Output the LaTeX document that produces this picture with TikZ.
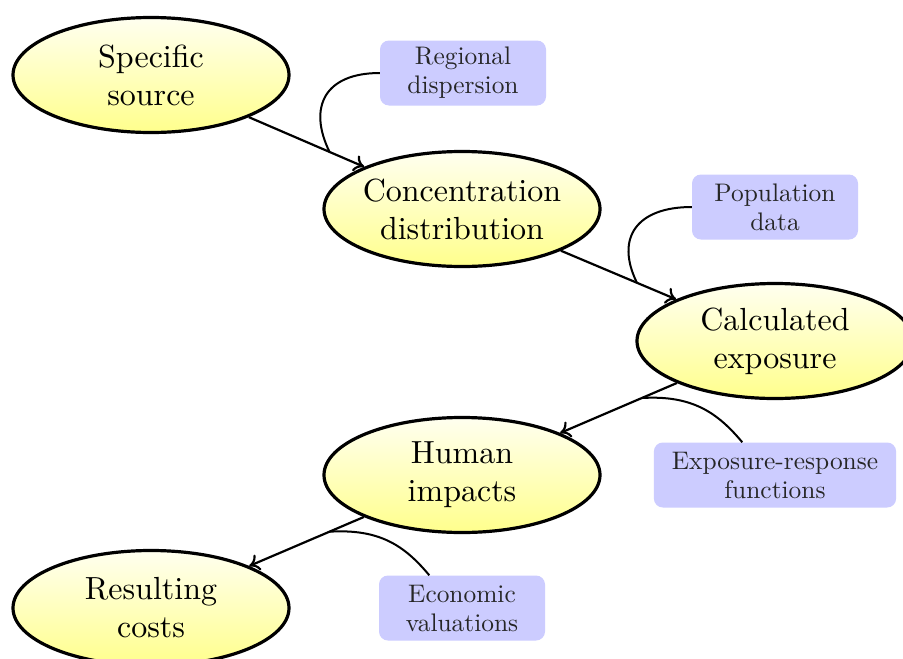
\documentclass[tikz,border=0pt]{standalone}
\usepackage{fontspec}
\newfontfamily\lmten{lmroman10-regular.otf}
\usetikzlibrary{shapes.geometric,arrows.meta}
\begin{document}
\begin{tikzpicture}[x=1pt,y=-1pt,
  blob/.style={ellipse, draw=black, line width=3.2pt, top color=yellow!6, bottom color=yellow!45,
    text width=200pt, align=center, inner xsep=-2.5pt, inner ysep=0pt,
    minimum width=276pt, minimum height=115pt, font=\lmten\fontsize{32}{38}\selectfont},
  info/.style={rectangle, rounded corners=9pt, fill=blue!20, text=black!85, align=center,
    inner xsep=18pt, inner ysep=0pt, minimum width=166pt, minimum height=65pt,
    font=\lmten\fontsize{25.4}{29}\selectfont},
  flow/.style={line width=2.2pt, -{To[length=10pt,width=17pt]}},
  link/.style={line width=2pt}]
\useasboundingbox (0,0) rectangle (903,659);
\fill[white] (0,0) rectangle (903,659);
\clip (0,0) rectangle (903,659);

\node[blob] (ss) at (151,75)  {Specific\\source};
\node[blob] (cd) at (462,209) {Concentration\\distribution};
\node[blob] (ce) at (775,341) {Calculated\\exposure};
\node[blob] (hi) at (462,475) {Human\\impacts};
\node[blob] (rc) at (151,608) {Resulting\\costs};

\node[info] (rd)  at (463,73)  {Regional\\dispersion};
\node[info] (pd)  at (775,207) {Population\\data};
\node[info] (erf) at (775,475) {Exposure-response\\functions};
\node[info] (ev)  at (462,608) {Economic\\valuations};

\draw[flow] (ss) -- coordinate[pos=0.7] (m1) (cd);
\draw[flow] (cd) -- coordinate[pos=0.66] (m2) (ce);
\draw[flow] (ce) -- coordinate[pos=0.3] (m3) (hi);
\draw[flow] (hi) -- coordinate[pos=0.3] (m4) (rc);

\draw[link] (rd.west) .. controls +(-55,0) and +(-22,-45) .. (m1);
\draw[link] (pd.west) .. controls +(-55,0) and +(-22,-45) .. (m2);
\draw[link] (m3) .. controls +(50,-3) and +(-25,-30) .. (erf.135);
\draw[link] (m4) .. controls +(50,-3) and +(-25,-30) .. (ev.135);
\end{tikzpicture}
\end{document}
